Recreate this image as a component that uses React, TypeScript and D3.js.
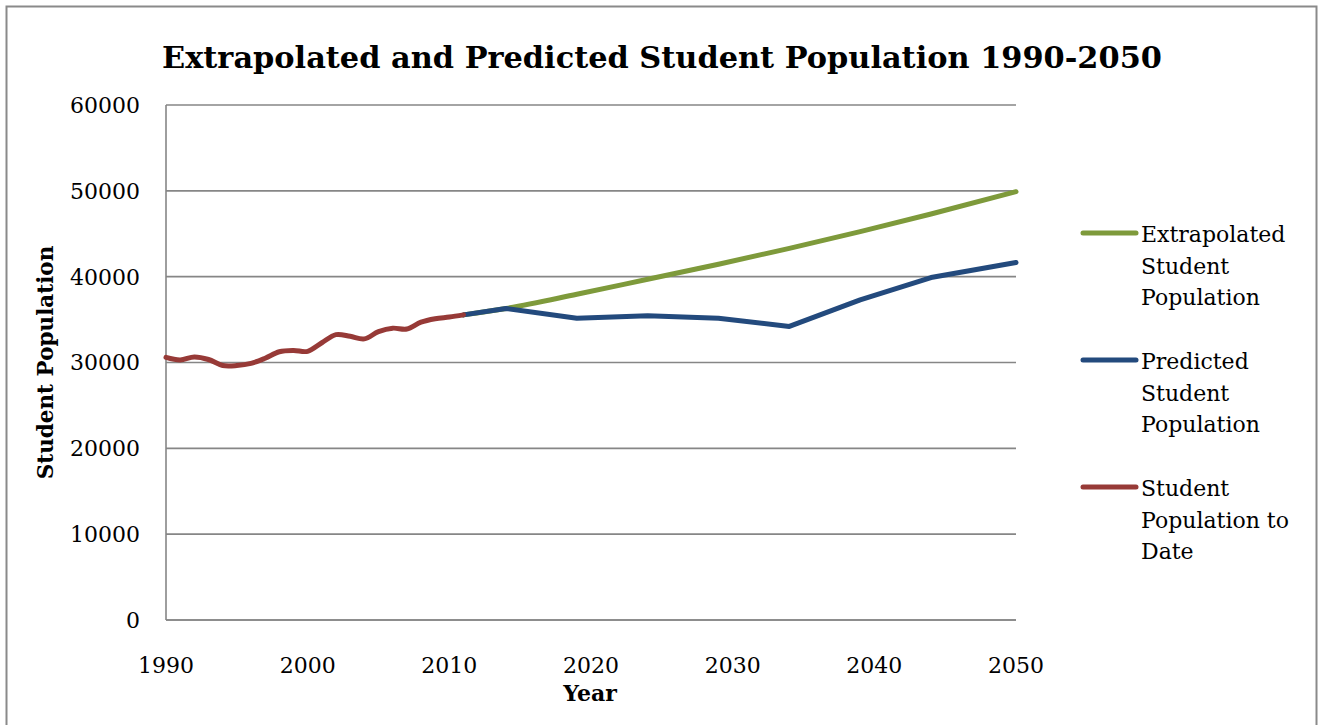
import React from "react";
import * as d3 from "d3";

const W = 1320;
const H = 725;

const titleText = "Extrapolated and Predicted Student Population 1990-2050";
const yAxisTitle = "Student Population";
const xAxisTitle = "Year";

const yTicks = [0, 10000, 20000, 30000, 40000, 50000, 60000];
const xTicks = [1990, 2000, 2010, 2020, 2030, 2040, 2050];

// Student Population to Date (red)
const toDateYears = [1990, 1991, 1992, 1993, 1994, 1995, 1996, 1997, 1998, 1999, 2000, 2001, 2002, 2003, 2004, 2005, 2006, 2007, 2008, 2009, 2010, 2011];
const toDateValues = [30600, 30300, 30650, 30350, 29650, 29650, 29900, 30500, 31250, 31400, 31300, 32300, 33250, 33050, 32750, 33600, 34000, 33900, 34700, 35100, 35300, 35550];

// Predicted Student Population (blue)
const predictedYears = [2011, 2014, 2019, 2024, 2029, 2034, 2039, 2044, 2050];
const predictedValues = [35550, 36300, 35150, 35450, 35150, 34200, 37300, 39900, 41650];

// Extrapolated Student Population (green)
const extrapolatedYears = [2011, 2014, 2019, 2024, 2029, 2034, 2039, 2044, 2050];
const extrapolatedValues = [35550, 36300, 37950, 39700, 41450, 43300, 45250, 47300, 49900];

const seriesNames = [
  ["Extrapolated", "Student", "Population"],
  ["Predicted", "Student", "Population"],
  ["Student", "Population to", "Date"],
];
const seriesColors = ["#7E9A3B", "#234A7D", "#973A37"];

const FONT = "'DejaVu Serif', serif";

export default function App() {
  const x = d3.scaleLinear().domain([1990, 2050]).range([166, 1016]);
  const y = d3.scaleLinear().domain([0, 60000]).range([620, 105]);

  const lineLinear = d3
    .line<[number, number]>()
    .x((d) => x(d[0]))
    .y((d) => y(d[1]));
  const lineSmooth = d3
    .line<[number, number]>()
    .x((d) => x(d[0]))
    .y((d) => y(d[1]))
    .curve(d3.curveCatmullRom.alpha(0.5));
  const lineMono = d3
    .line<[number, number]>()
    .x((d) => x(d[0]))
    .y((d) => y(d[1]))
    .curve(d3.curveMonotoneX);

  const green = extrapolatedYears.map((yr, i) => [yr, extrapolatedValues[i]] as [number, number]);
  const blue = predictedYears.map((yr, i) => [yr, predictedValues[i]] as [number, number]);
  const red = toDateYears.map((yr, i) => [yr, toDateValues[i]] as [number, number]);

  const legendY = [233, 360, 487];
  const SW = 5;

  return (
    <svg
      width={W}
      height={H}
      style={{ position: "absolute", left: 0, top: 0, background: "#fff" }}
      fontFamily={FONT}
    >
      <rect x={0} y={0} width={W} height={H} fill="#fff" />
      <rect x={6.5} y={6.5} width={1310} height={740} fill="none" stroke="#8a8a8a" strokeWidth={2} />

      <text x={662} y={68} textAnchor="middle" fontWeight="bold" fontSize={30.4} fill="#000">
        {titleText}
      </text>

      {/* gridlines */}
      {yTicks.map((t) => (
        <line key={"g" + t} x1={x(1990)} x2={x(2050)} y1={y(t)} y2={y(t)} stroke="#868686" strokeWidth={1.6} />
      ))}
      {/* axes */}
      <line x1={x(1990)} x2={x(1990)} y1={y(60000)} y2={y(0)} stroke="#868686" strokeWidth={1.6} />
      <line x1={x(1990)} x2={x(2050)} y1={y(0)} y2={y(0)} stroke="#868686" strokeWidth={1.6} />

      {yTicks.map((t) => (
        <text key={"yt" + t} x={140} y={y(t)} dy="0.36em" textAnchor="end" fontSize={22} fill="#000">
          {t}
        </text>
      ))}
      {xTicks.map((t) => (
        <text key={"xt" + t} x={x(t)} y={673} textAnchor="middle" fontSize={22} fill="#000">
          {t}
        </text>
      ))}

      <text x={590} y={701} textAnchor="middle" fontWeight="bold" fontSize={22} fill="#000">
        {xAxisTitle}
      </text>
      <text
        transform={`translate(53, ${y(30000)}) rotate(-90)`}
        textAnchor="middle"
        fontWeight="bold"
        fontSize={21.5}
        fill="#000"
      >
        {yAxisTitle}
      </text>

      {/* series */}
      <path d={lineMono(green) || ""} fill="none" stroke={seriesColors[0]} strokeWidth={SW} strokeLinecap="round" strokeLinejoin="round" />
      <path d={lineLinear(blue) || ""} fill="none" stroke={seriesColors[1]} strokeWidth={SW} strokeLinecap="round" strokeLinejoin="round" />
      <path d={lineSmooth(red) || ""} fill="none" stroke={seriesColors[2]} strokeWidth={SW} strokeLinecap="round" strokeLinejoin="round" />

      {/* legend */}
      {seriesNames.map((lines, i) => (
        <g key={"lg" + i}>
          <line x1={1083} x2={1136} y1={legendY[i]} y2={legendY[i]} stroke={seriesColors[i]} strokeWidth={SW} strokeLinecap="round" />
          {lines.map((ln, j) => (
            <text key={j} x={1141} y={legendY[i] + 9 + j * 31.5} fontSize={22} fill="#000">
              {ln}
            </text>
          ))}
        </g>
      ))}
    </svg>
  );
}
